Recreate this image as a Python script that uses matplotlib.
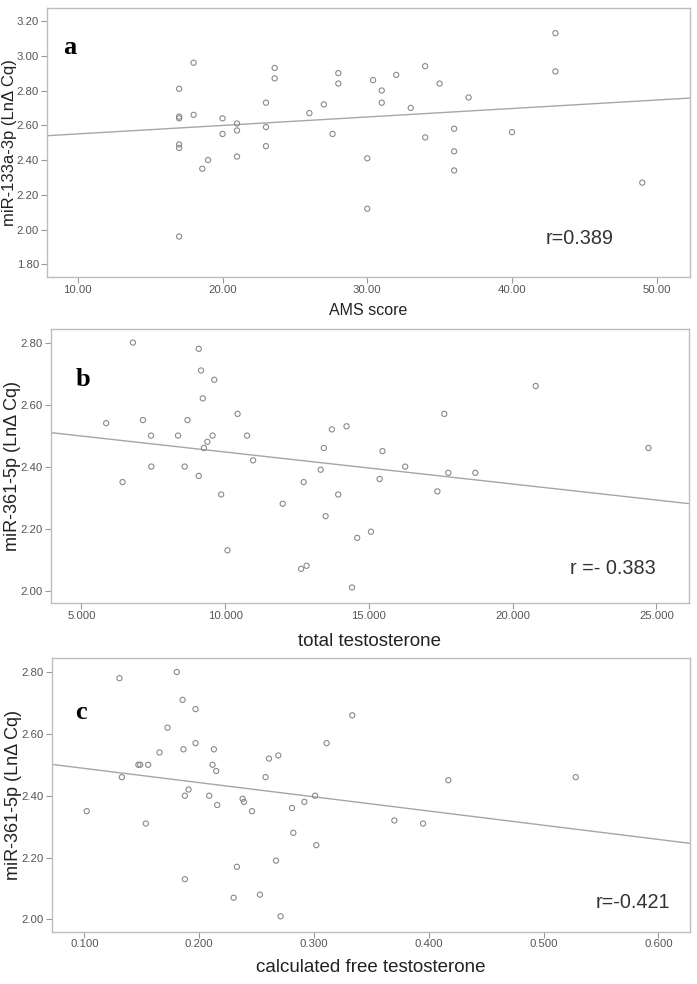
import numpy as np
import matplotlib
matplotlib.use('Agg')
import matplotlib.pyplot as plt

plt.rcParams['font.family'] = ['Liberation Sans', 'DejaVu Sans']

# panel a: AMS score vs miR-133a-3p
ams_x = [17, 17, 17, 17, 17, 17, 18, 18, 18.6, 19, 20, 20, 21, 21, 21,
         23, 23, 23, 23.6, 23.6, 26, 27, 27.6, 28, 28,
         30, 30, 30.4, 31, 31, 32, 33, 34, 34, 35, 36, 36, 36, 37, 40, 43, 43, 49]
ams_y = [2.81, 2.65, 2.64, 2.49, 2.47, 1.96, 2.96, 2.66, 2.35, 2.40, 2.64, 2.55, 2.61, 2.57, 2.42,
         2.73, 2.59, 2.48, 2.93, 2.87, 2.67, 2.72, 2.55, 2.90, 2.84,
         2.41, 2.12, 2.86, 2.80, 2.73, 2.89, 2.70, 2.94, 2.53, 2.84, 2.58, 2.45, 2.34, 2.76, 2.56,
         3.13, 2.91, 2.27]

# panel b: total testosterone vs miR-361-5p
tt_x = [5.86, 6.43, 6.79, 7.14, 7.42, 7.43, 8.36, 8.59, 8.69, 9.08, 9.08, 9.16, 9.22, 9.26,
        9.38, 9.56, 9.62, 9.86, 10.08, 10.43, 10.76, 10.97, 12.0, 12.64, 12.73, 12.83,
        13.32, 13.43, 13.49, 13.71, 13.93, 14.22, 14.41, 14.59, 15.07, 15.37, 15.47,
        16.26, 17.38, 17.62, 17.76, 18.70, 20.80, 24.72]
tt_y = [2.54, 2.35, 2.80, 2.55, 2.50, 2.40, 2.50, 2.40, 2.55, 2.78, 2.37, 2.71, 2.62, 2.46,
        2.48, 2.50, 2.68, 2.31, 2.13, 2.57, 2.50, 2.42, 2.28, 2.07, 2.35, 2.08,
        2.39, 2.46, 2.24, 2.52, 2.31, 2.53, 2.01, 2.17, 2.19, 2.36, 2.45,
        2.40, 2.32, 2.57, 2.38, 2.38, 2.66, 2.46]

# panel c: calculated free testosterone vs miR-361-5p
ft_x = [0.102, 0.1305, 0.1326, 0.147, 0.1486, 0.1535, 0.1555, 0.1654, 0.1724, 0.1805, 0.1855,
        0.1863, 0.1875, 0.1875, 0.1907, 0.1968, 0.1968, 0.2087, 0.2116, 0.2128, 0.2148, 0.2157,
        0.230, 0.2328, 0.2378, 0.239, 0.246, 0.2529, 0.2578, 0.2608, 0.2669, 0.2689, 0.2709,
        0.2808, 0.282, 0.2916, 0.3009, 0.302, 0.311, 0.3333, 0.370, 0.395, 0.417, 0.528]
ft_y = [2.35, 2.78, 2.46, 2.50, 2.50, 2.31, 2.50, 2.54, 2.62, 2.80, 2.71,
        2.55, 2.40, 2.13, 2.42, 2.68, 2.57, 2.40, 2.50, 2.55, 2.48, 2.37,
        2.07, 2.17, 2.39, 2.38, 2.35, 2.08, 2.46, 2.52, 2.19, 2.53, 2.01,
        2.36, 2.28, 2.38, 2.40, 2.24, 2.57, 2.66, 2.32, 2.31, 2.45, 2.46]

panels = [
    dict(x=ams_x, y=ams_y, letter='a', r='r=0.389', xlabel='AMS score',
         ylabel='miR-133a-3p (LnΔ Cq)', pos=[0.067, 0.7185, 0.923, 0.2734],
         xlim=(7.85, 52.3), ylim=(1.727, 3.275), xticks=[10, 20, 30, 40, 50],
         yticks=[1.8, 2.0, 2.2, 2.4, 2.6, 2.8, 3.0, 3.2], xfmt='{:.2f}',
         letter_xy=(9.45, 3.05), r_xy=(44.7, 1.95), xl_size=11.5, yl_size=12,
         xl_y=-0.097, yl_x=-0.046),
    dict(x=tt_x, y=tt_y, letter='b', r='r =- 0.383', xlabel='total testosterone',
         ylabel='miR-361-5p (LnΔ Cq)', pos=[0.0727, 0.3869, 0.9158, 0.2788],
         xlim=(3.93, 26.13), ylim=(1.959, 2.844), xticks=[5, 10, 15, 20, 25],
         yticks=[2.0, 2.2, 2.4, 2.6, 2.8], xfmt='{:.3f}',
         letter_xy=(5.05, 2.68), r_xy=(23.48, 2.07), xl_size=13.5, yl_size=13,
         xl_y=-0.108, yl_x=-0.047),
    dict(x=ft_x, y=ft_y, letter='c', r='r=-0.421', xlabel='calculated free testosterone',
         ylabel='miR-361-5p (LnΔ Cq)', pos=[0.0742, 0.0531, 0.9158, 0.2781],
         xlim=(0.0715, 0.6276), ylim=(1.96, 2.845), xticks=[0.1, 0.2, 0.3, 0.4, 0.5, 0.6],
         yticks=[2.0, 2.2, 2.4, 2.6, 2.8], xfmt='{:.3f}',
         letter_xy=(0.097, 2.668), r_xy=(0.5775, 2.055), xl_size=13.5, yl_size=13,
         xl_y=-0.10, yl_x=-0.047),
]

fig = plt.figure(figsize=(6.97, 9.84), dpi=100)

for p in panels:
    ax = fig.add_axes(p['pos'])
    x = np.array(p['x'])
    y = np.array(p['y'])
    ax.scatter(x, y, s=14, facecolors='none', edgecolors='#8a8a8a', linewidths=0.8, zorder=3)

    # least squares fit line across the whole x range
    k, b = np.polyfit(x, y, 1)
    xs = np.array(p['xlim'])
    ax.plot(xs, k * xs + b, color='#a6a6a6', linewidth=1.0, zorder=2)

    ax.set_xlim(p['xlim'])
    ax.set_ylim(p['ylim'])
    ax.set_xticks(p['xticks'])
    ax.set_xticklabels([p['xfmt'].format(v) for v in p['xticks']])
    ax.set_yticks(p['yticks'])
    ax.set_yticklabels(['{:.2f}'.format(v) for v in p['yticks']])
    ax.tick_params(direction='out', length=4, width=0.8, colors='#999999',
                   labelcolor='#555555', labelsize=8.2, pad=1.5)
    for s in ax.spines.values():
        s.set_color('#bdbdbd')
        s.set_linewidth(1.0)

    ax.set_xlabel(p['xlabel'], fontsize=p['xl_size'], color='#222222')
    ax.xaxis.set_label_coords(0.5, p['xl_y'])
    ax.set_ylabel(p['ylabel'], fontsize=p['yl_size'], color='#222222')
    ax.yaxis.set_label_coords(p['yl_x'], 0.5)

    ax.text(p['letter_xy'][0], p['letter_xy'][1], p['letter'], fontsize=19,
            fontweight='bold', family='Liberation Serif', ha='center', va='center')
    ax.text(p['r_xy'][0], p['r_xy'][1], p['r'], fontsize=14.3, color='#333333',
            ha='center', va='center')

plt.savefig('out.png', dpi=100)
plt.close()
